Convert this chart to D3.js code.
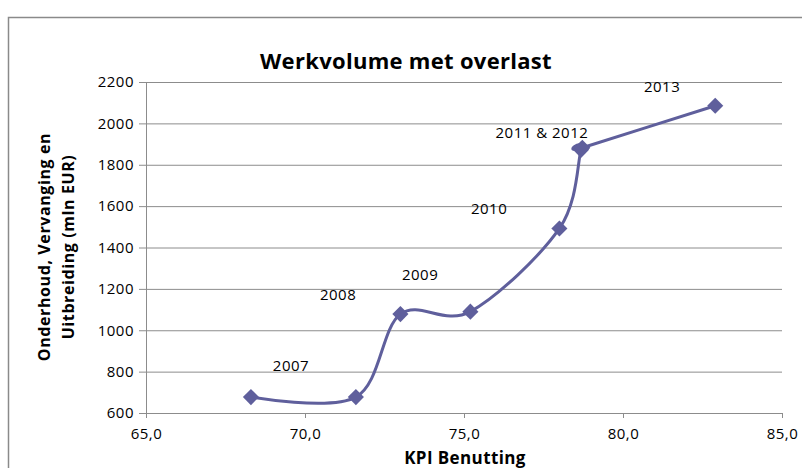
<!DOCTYPE html>
<meta charset="utf-8">
<style>
    body { margin: 0; background: #fff; }
    text { font-family: "Open Sans", "DejaVu Sans", sans-serif; fill: #000; }
    .grid line { stroke: #8c8c8c; stroke-width: 1px; }
    .axis path, .axis line { stroke: #8c8c8c; }
    .axis text { font-size: 15px; letter-spacing: 0.5px; }
    .line { fill: none; stroke: #5f5f9c; stroke-width: 3px; }
    .marker { fill: #5f5f9c; }
    .lbl { font-size: 15px; letter-spacing: 0.5px; text-anchor: middle; }
</style>
<body>
<svg width="802" height="468"></svg>
<script src="https://cdn.jsdelivr.net/npm/d3@7"></script>
<script>

    // KPI Benutting (x) vs Onderhoud, Vervanging en Uitbreiding (y)
    var kpi    = [68.3, 71.6, 73.0, 75.2, 78.0, 78.68, 78.72, 82.9];
    var volume = [677, 677, 1078, 1090, 1492, 1872, 1882, 2085];

    // year labels, placed in data units next to the points
    var labelText = ["2007", "2008", "2009", "2010", "2011 & 2012", "2013"];
    var labelX    = [69.56, 71.04, 73.62, 75.79, 77.45, 81.23];
    var labelY    = [827, 1170, 1266, 1585, 1953, 2176];

    var xTicks = [65, 70, 75, 80, 85];
    var yTicks = [600, 800, 1000, 1200, 1400, 1600, 1800, 2000, 2200];

    var svg = d3.select("svg"),
        margin = {top: 82, right: 20, bottom: 55, left: 146},
        width = 782 - margin.left,
        height = 413 - margin.top;

    // outer chart border (runs off the right and bottom edge)
    svg.append("rect")
        .attr("x", 8.5).attr("y", 17.5)
        .attr("width", 820).attr("height", 480)
        .attr("fill", "none")
        .attr("stroke", "#8a8a8a")
        .attr("stroke-width", 1.5);

    var x = d3.scaleLinear().domain([65, 85]).range([0, width]),
        y = d3.scaleLinear().domain([600, 2200]).range([height, 0]);

    var g = svg.append("g")
        .attr("transform", "translate(" + margin.left + "," + margin.top + ")");

    g.append("g")
        .attr("class", "grid")
        .selectAll("line")
        .data(yTicks.slice(1))
        .enter().append("line")
        .attr("x1", 0).attr("x2", width)
        .attr("y1", function (d) { return y(d) + 0.5; })
        .attr("y2", function (d) { return y(d) + 0.5; });

    var xAxis = d3.axisBottom(x).tickValues(xTicks).tickSize(5).tickSizeOuter(0)
        .tickFormat(function (d) { return d3.format(".1f")(d).replace(".", ","); });
    var yAxis = d3.axisLeft(y).tickValues(yTicks).tickSize(7).tickSizeOuter(0)
        .tickFormat(d3.format("d"));

    g.append("g")
        .attr("class", "axis axis--x")
        .attr("transform", "translate(0," + height + ")")
        .call(xAxis)
        .call(function (s) { s.selectAll("text").attr("dy", "1.2em"); });

    g.append("g")
        .attr("class", "axis axis--y")
        .call(yAxis)
        .call(function (s) { s.selectAll("text").attr("x", -12); });

    // title and axis titles
    svg.append("text")
        .attr("x", 406).attr("y", 69)
        .style("text-anchor", "middle")
        .style("font-size", "22px")
        .style("font-weight", "bold")
        .style("letter-spacing", "0.3px")
        .text("Werkvolume met overlast");

    svg.append("text")
        .attr("x", 465).attr("y", 464)
        .style("text-anchor", "middle")
        .style("font-size", "17px")
        .style("font-weight", "bold")
        .style("letter-spacing", "0.4px")
        .text("KPI Benutting");

    var yTitle = svg.append("text")
        .attr("transform", "translate(44,247) rotate(-90)")
        .style("text-anchor", "middle")
        .style("font-size", "16px")
        .style("font-weight", "bold")
        .style("letter-spacing", "0.6px");
    yTitle.append("tspan").attr("x", 0).attr("dy", "0.35em").text("Onderhoud,  Vervanging en");
    yTitle.append("tspan").attr("x", 0).attr("dy", "1.55em").text("Uitbreiding (mln EUR)");

    var pts = kpi.map(function (d, i) { return [d, volume[i]]; });

    var line = d3.line()
        .curve(d3.curveCardinal.tension(0))
        .x(function (d) { return x(d[0]); })
        .y(function (d) { return y(d[1]); });

    g.append("path")
        .datum(pts)
        .attr("class", "line")
        .attr("d", line);

    var diamond = d3.symbol().type(d3.symbolSquare).size(130);

    g.selectAll(".marker")
        .data(pts)
        .enter().append("path")
        .attr("class", "marker")
        .attr("d", diamond)
        .attr("transform", function (d) {
            return "translate(" + x(d[0]) + "," + y(d[1]) + ") rotate(45)";
        });

    g.selectAll(".lbl")
        .data(labelText)
        .enter().append("text")
        .attr("class", "lbl")
        .attr("x", function (d, i) { return x(labelX[i]); })
        .attr("y", function (d, i) { return y(labelY[i]); })
        .attr("dy", "0.35em")
        .text(function (d) { return d; });

</script>
</body>
